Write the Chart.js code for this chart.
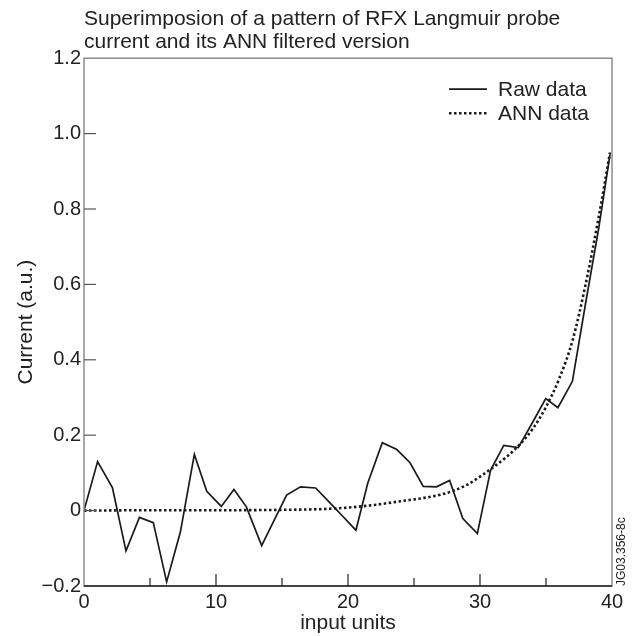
<!DOCTYPE html>
<html>
<head>
<meta charset="utf-8">
<script src="https://cdn.jsdelivr.net/npm/chart.js@4.4.0/dist/chart.umd.min.js"></script>
<style>
  html, body { margin: 0; padding: 0; background: #fff; }
  #wrap { width: 634px; height: 636px; }
</style>
</head>
<body>
<div id="wrap"><canvas id="grafico" width="634" height="636"></canvas></div>
<script>
// values
const rawX = [0, 1.03, 2.15, 3.18, 4.2, 5.25, 6.26, 7.3, 8.36, 9.3,
  10.4, 11.36, 12.3, 13.46, 14.4, 15.35, 16.4, 17.55, 18.6, 19.6,
  20.6, 21.5, 22.6, 23.7, 24.7, 25.7, 26.7, 27.7, 28.7, 29.8,
  30.8, 31.8, 32.9, 34.0, 34.98, 35.9, 37.0, 38.0, 39.0, 39.85];
const rawY = [0, 0.13, 0.061, -0.107, -0.018, -0.032, -0.189, -0.057, 0.149, 0.051,
  0.011, 0.056, 0.01, -0.093, -0.026, 0.041, 0.063, 0.06, 0.022, -0.015,
  -0.052, 0.073, 0.18, 0.162, 0.127, 0.064, 0.063, 0.08, -0.021, -0.061,
  0.107, 0.173, 0.167, 0.235, 0.297, 0.273, 0.343, 0.55, 0.75, 0.945];

const annX = [0, 5, 10, 15, 18, 20, 22, 24, 26, 27, 28, 29, 30, 31, 32, 33, 34, 35, 36, 37, 38, 39, 39.85];
const annY = [0, 0.001, 0.001, 0.002, 0.004, 0.008, 0.015, 0.025, 0.035, 0.042, 0.053, 0.068,
  0.09, 0.115, 0.142, 0.175, 0.217, 0.275, 0.35, 0.45, 0.6, 0.78, 0.95];

const seriesNames = ['Raw data', 'ANN data'];
const titleLines = ['Superimposion of a pattern of RFX Langmuir probe', 'current and its ANN filtered version'];
const xTitle = 'input units';
const yTitle = 'Current (a.u.)';
const figureCode = 'JG03.356-8c';

const FONT = "'Liberation Sans', Arial, Helvetica, sans-serif";

const toPoints = (xs, ys) => xs.map((x, i) => ({ x: x, y: ys[i] }));

// box around the plot + inward ticks
const frameTicks = {
  id: 'frameTicks',
  afterDatasetsDraw(chart) {
    const { ctx, chartArea: a, scales } = chart;
    ctx.save();
    ctx.strokeStyle = '#8c8c8c';
    ctx.lineWidth = 1.5;
    ctx.strokeRect(a.left, a.top, a.right - a.left, a.bottom - a.top);
    ctx.strokeStyle = '#222';
    ctx.beginPath();
    ctx.moveTo(a.left, a.bottom);
    ctx.lineTo(a.right, a.bottom);
    ctx.stroke();

    ctx.lineWidth = 1.2;
    scales.x.ticks.forEach(t => {
      if (t.value <= scales.x.min || t.value >= scales.x.max) return;
      const px = scales.x.getPixelForValue(t.value);
      const len = t.value % 10 === 0 ? 12 : 8;
      ctx.beginPath();
      ctx.moveTo(px, a.bottom);
      ctx.lineTo(px, a.bottom - len);
      ctx.stroke();
    });
    ctx.strokeStyle = '#555';
    scales.y.ticks.forEach(t => {
      if (t.value <= scales.y.min || t.value >= scales.y.max) return;
      const py = scales.y.getPixelForValue(t.value);
      ctx.beginPath();
      ctx.moveTo(a.left, py);
      ctx.lineTo(a.left + 12, py);
      ctx.stroke();
    });
    ctx.restore();
  },
  afterDraw(chart) {
    const { ctx, chartArea: a } = chart;
    // legend
    ctx.save();
    ctx.font = '21px ' + FONT;
    ctx.textBaseline = 'middle';
    ctx.fillStyle = '#222';
    chart.data.datasets.forEach((ds, i) => {
      const y = a.top + 31 + i * 24;
      ctx.strokeStyle = ds.borderColor;
      ctx.lineWidth = ds.borderWidth;
      ctx.setLineDash(ds.borderDash || []);
      ctx.beginPath();
      ctx.moveTo(a.right - 163, y);
      ctx.lineTo(a.right - 125, y);
      ctx.stroke();
      ctx.fillText(ds.label, a.right - 114, y + 1);
    });
    ctx.setLineDash([]);
    // figure code on the right
    ctx.font = '12px ' + FONT;
    ctx.translate(a.right + 10, a.bottom);
    ctx.rotate(-Math.PI / 2);
    ctx.textBaseline = 'middle';
    ctx.textAlign = 'left';
    ctx.fillText(figureCode, 0, 0);
    ctx.restore();
  }
};

const ctx = document.getElementById('grafico').getContext('2d');
const chart = new Chart(ctx, {
  type: 'line',
  data: {
    datasets: [{
      label: seriesNames[0],
      data: toPoints(rawX, rawY),
      borderColor: '#1a1a1a',
      borderWidth: 1.7,
      pointRadius: 0,
      tension: 0
    }, {
      label: seriesNames[1],
      data: toPoints(annX, annY),
      borderColor: '#1a1a1a',
      borderWidth: 2.6,
      borderDash: [2.5, 2.5],
      pointRadius: 0,
      cubicInterpolationMode: 'monotone'
    }]
  },
  options: {
    responsive: false,
    animation: false,
    layout: { padding: { left: 0, right: 22, top: 0, bottom: 0 } },
    plugins: {
      legend: { display: false },
      tooltip: { enabled: false },
      title: {
        display: true,
        text: titleLines,
        align: 'start',
        fullSize: false,
        color: '#222',
        font: { family: FONT, size: 21, weight: 'normal', lineHeight: 1.1 },
        padding: { top: 8, bottom: 4 }
      }
    },
    scales: {
      x: {
        type: 'linear',
        min: 0,
        max: 40,
        grid: { display: false, drawTicks: false },
        border: { display: false },
        ticks: {
          stepSize: 5,
          padding: 4,
          color: '#222',
          font: { family: FONT, size: 20 },
          callback: v => (v % 10 === 0 ? String(v) : '')
        },
        title: {
          display: true,
          text: xTitle,
          color: '#222',
          font: { family: FONT, size: 21 },
          padding: { top: 0, bottom: 0 }
        },
        afterFit: s => { s.height = 50; }
      },
      y: {
        min: -0.2,
        max: 1.2,
        grid: { display: false, drawTicks: false },
        border: { display: false },
        ticks: {
          stepSize: 0.2,
          padding: 3,
          color: '#222',
          font: { family: FONT, size: 20 },
          callback: v => {
            const r = Math.round(v * 10) / 10;
            if (r === 0) return '0';
            return r < 0 ? '\u2212' + Math.abs(r).toFixed(1) : r.toFixed(1);
          }
        },
        title: {
          display: true,
          text: yTitle,
          color: '#222',
          font: { family: FONT, size: 21 },
          padding: { top: 14, bottom: 0 }
        },
        afterFit: s => { s.width = 84; }
      }
    }
  },
  plugins: [frameTicks]
});
</script>
</body>
</html>
